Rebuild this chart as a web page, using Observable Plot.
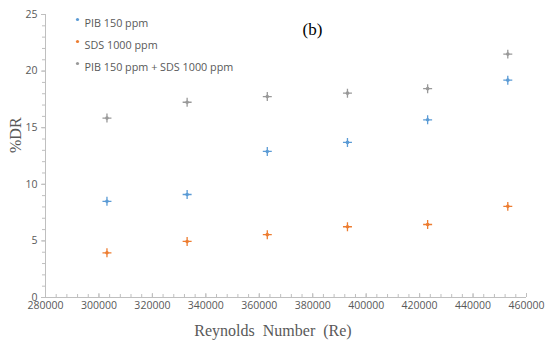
<!DOCTYPE html>
<html>
<head>
<meta charset="utf-8">
<script src="https://cdn.jsdelivr.net/npm/d3@7"></script>
<script src="https://cdn.jsdelivr.net/npm/@observablehq/plot@0.6"></script>
<style>
  html, body { margin: 0; padding: 0; background: #fff; }
</style>
</head>
<body>
<div id="chart"></div>
<script>
const reynolds = [303000, 333000, 363000, 393000, 423000, 453000];
const pib = [8.5, 9.1, 12.9, 13.7, 15.7, 19.2];
const sds = [3.95, 4.95, 5.55, 6.25, 6.45, 8.05];
const both = [15.85, 17.25, 17.75, 18.05, 18.45, 21.5];
const seriesNames = ["PIB 150 ppm", "SDS 1000 ppm", "PIB 150 ppm + SDS 1000 ppm"];
const seriesColors = ["#5b9bd5", "#ed7d31", "#999999"];
const xTicks = [280000, 300000, 320000, 340000, 360000, 380000, 400000, 420000, 440000, 460000];
const xMinor = d3.range(280000, 460001, 4000);
const yTicks = [0, 5, 10, 15, 20, 25];
const yMinor = d3.range(0, 26, 1);

const values = [pib, sds, both];
const data = [];
values.forEach((arr, s) => arr.forEach((v, i) => data.push({x: reynolds[i], y: v, s: seriesNames[s]})));

const sans = "'Open Sans', 'Liberation Sans', sans-serif";
const serif = "'Liberation Serif', 'DejaVu Serif', serif";

const legendMarks = seriesNames.flatMap((name, i) => [
  Plot.dot([name], {frameAnchor: "top-left", dx: 32, dy: 5 + i * 22, r: 1.6, fill: seriesColors[i]}),
  Plot.text([name], {frameAnchor: "top-left", dx: 39, dy: 5 + i * 22, text: d => d, textAnchor: "start", fill: "#595959", fontSize: 10.8})
]);

const chart = Plot.plot({
  width: 550,
  height: 350,
  marginLeft: 45,
  marginRight: 24,
  marginTop: 14,
  marginBottom: 53,
  style: {fontFamily: sans, fontSize: "10.5px", background: "#fff"},
  x: {domain: [280000, 460000]},
  y: {domain: [0, 25]},
  color: {domain: seriesNames, range: seriesColors},
  marks: [
    Plot.axisY({ticks: yMinor, tickSize: 3, text: null, stroke: "#bfbfbf", label: null}),
    Plot.axisY({ticks: yTicks, tickSize: 4, tickPadding: 4, stroke: "#bfbfbf", fill: "#595959", label: null}),
    Plot.axisX({ticks: xMinor, tickSize: -3, text: null, stroke: "#bfbfbf", label: null}),
    Plot.axisX({ticks: xTicks, tickSize: -4, tickPadding: 8, tickFormat: d => String(d), stroke: "#bfbfbf", fill: "#595959", label: null}),
    Plot.ruleX([280000], {stroke: "#bfbfbf"}),
    Plot.ruleY([0], {stroke: "#bfbfbf"}),
    Plot.dot(data, {x: "x", y: "y", symbol: "plus", r: 3, stroke: "s", strokeWidth: 1.3}),
    Plot.dot(data, {x: "x", y: "y", r: 1.8, fill: "s"}),
    ...legendMarks,
    Plot.text(["(b)"], {frameAnchor: "top-left", dx: 267, dy: 8, text: d => d, textAnchor: "middle", fontFamily: serif, fontSize: 17, fill: "#000"}),
    Plot.text(["Reynolds  Number  (Re)"], {frameAnchor: "bottom", dx: -13, dy: 38, text: d => d, fontFamily: serif, fontSize: 16, fill: "#595959"}),
    Plot.text(["%DR"], {frameAnchor: "left", dx: -30, dy: -3, rotate: -90, text: d => d, fontFamily: serif, fontSize: 16, fill: "#595959"})
  ]
});
document.getElementById("chart").appendChild(chart);
</script>
</body>
</html>
